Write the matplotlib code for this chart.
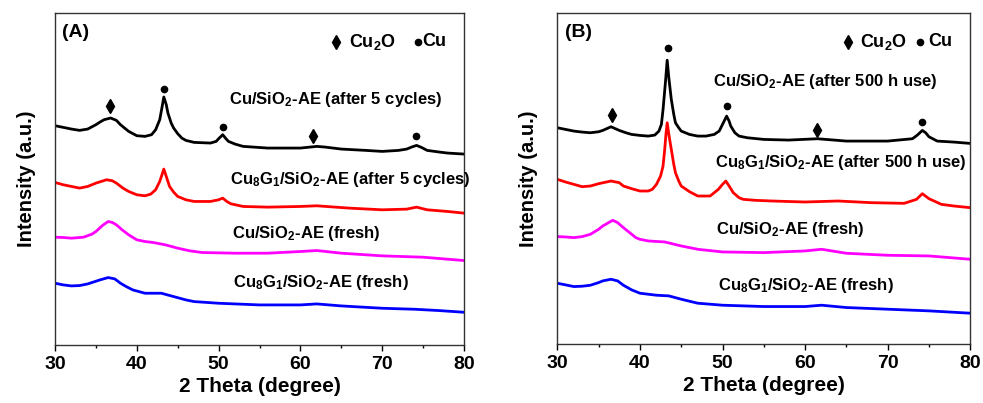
import matplotlib
matplotlib.use("Agg")
import matplotlib.pyplot as plt

plt.rcParams['font.family'] = 'Liberation Sans'
plt.rcParams['font.weight'] = 'bold'
plt.rcParams['mathtext.fontset'] = 'custom'
plt.rcParams['mathtext.rm'] = 'Liberation Sans:bold'
plt.rcParams['mathtext.it'] = 'Liberation Sans:bold'
plt.rcParams['mathtext.bf'] = 'Liberation Sans:bold'
plt.rcParams['mathtext.default'] = 'rm'

# XRD traces (2 theta, intensity in a.u.)
# panel A
a_black_x = [30, 31, 32, 33, 34, 35, 35.5, 36, 36.8, 37.5, 38, 38.5, 39, 40, 41, 41.8, 42.3, 42.8, 43.1, 43.3, 43.6,
             43.8, 44.2, 44.5, 45, 45.5, 46, 47, 48, 49, 49.7, 50, 50.5, 50.9, 51.2, 52, 53, 56, 58, 60, 62, 63, 65,
             68, 70, 72, 73, 73.6, 74.2, 74.8, 75.5, 77, 78, 80]
a_black_y = [657, 652, 647, 643, 647, 660, 668, 675, 680, 673, 660, 650, 640, 627, 625, 630, 645, 675, 715, 743, 720,
             695, 665, 650, 633, 620, 613, 607, 606, 605, 610, 618, 630, 618, 610, 602, 595, 590, 590, 590, 595, 593,
             587, 583, 580, 583, 587, 593, 598, 592, 583, 578, 575, 572]
a_red_x = [30, 31, 32, 33, 34, 35, 36.3, 37, 37.5, 38.3, 39, 40, 41, 41.7, 42.3, 42.8, 43.1, 43.3, 43.6, 44, 44.5, 45,
           46, 47, 49, 50, 50.5, 51, 51.5, 53, 56, 60, 62, 66, 70, 73, 74.2, 75.5, 78, 80]
a_red_y = [487, 480, 475, 470, 475, 485, 495, 492, 485, 470, 460, 450, 447, 452, 465, 490, 512, 527, 505, 475, 458,
           445, 435, 430, 430, 435, 440, 430, 423, 415, 413, 415, 417, 410, 405, 407, 413, 405, 400, 395]
a_mag_x = [30, 31, 32, 33.5, 34.5, 35, 35.8, 36.5, 37, 37.5, 38.2, 39, 40, 41, 42, 43.5, 45, 46.5, 48, 52, 56, 60, 62,
           65, 70, 75, 80]
a_mag_y = [323, 322, 320, 323, 332, 340, 358, 370, 367, 360, 345, 330, 315, 310, 307, 300, 290, 282, 277, 275, 275,
           280, 283, 275, 267, 263, 253]
a_blue_x = [30, 31, 32, 33, 34, 35, 35.5, 36.5, 37.3, 38, 38.7, 39.5, 41, 43, 44.5, 46, 47, 50, 55, 60, 62, 65, 70, 74,
            77, 80]
a_blue_y = [185, 180, 177, 178, 183, 191, 195, 202, 198, 185, 175, 165, 155, 155, 145, 135, 130, 125, 120, 120, 123,
            117, 110, 107, 103, 98]

# panel B
b_black_x = [30, 31, 32, 33, 34, 35, 35.5, 36.5, 37.5, 38.3, 39, 40, 41, 41.8, 42.3, 42.6, 42.8, 43.1, 43.3, 43.5,
             43.8, 44.1, 44.3, 44.7, 45, 46, 47, 48, 49, 49.6, 50, 50.5, 50.8, 51, 51.5, 52, 53, 55, 58, 61.5, 65,
             70, 73, 73.6, 74.2, 74.6, 75, 76, 78, 80]
b_black_y = [650, 645, 640, 637, 635, 638, 642, 653, 642, 635, 630, 627, 625, 628, 640, 660, 705, 790, 853, 800, 735,
             690, 665, 650, 640, 630, 625, 625, 630, 640, 660, 685, 670, 655, 635, 625, 620, 615, 613, 617, 610, 610,
             617, 628, 642, 635, 623, 610, 607, 603]
b_red_x = [30, 31, 32, 33, 34, 35, 36.5, 37.5, 38, 39, 40, 41, 41.5, 42, 42.5, 42.8, 43, 43.15, 43.3, 43.5, 43.8,
           44.1, 44.3, 44.7, 45, 46, 47, 48.5, 49.5, 50, 50.4, 50.8, 51.3, 52, 52.5, 54, 56, 60, 64, 68, 72, 73.5,
           74.2, 75, 76.5, 78, 80]
b_red_y = [495, 487, 480, 473, 475, 482, 490, 485, 475, 467, 460, 460, 465, 480, 505, 535, 585, 630, 665, 630, 585,
           540, 515, 490, 475, 458, 445, 445, 465, 480, 490, 475, 455, 440, 435, 432, 430, 427, 430, 425, 423, 435,
           452, 437, 420, 415, 410]
b_mag_x = [30, 31, 32, 33, 34, 35, 35.5, 36.7, 37.3, 38, 39, 39.5, 40, 41, 43, 45, 47, 50, 55, 60, 62, 65, 70, 75, 80]
b_mag_y = [323, 322, 320, 323, 330, 345, 355, 372, 365, 350, 330, 320, 315, 310, 307, 295, 285, 277, 275, 280, 285,
           273, 267, 265, 255]
b_blue_x = [30, 31, 32, 33, 34, 35, 35.5, 36.5, 37.3, 38, 39, 40, 42, 43.5, 45, 47, 50, 55, 60, 62, 65, 70, 75, 80]
b_blue_y = [183, 178, 173, 174, 177, 185, 190, 195, 190, 177, 163, 153, 147, 145, 135, 123, 117, 113, 113, 117, 110,
            105, 100, 93]

# phase markers: (2 theta, height)
a_cu2o_x = [36.7, 61.5]
a_cu2o_y = [715, 627]
a_cu_x = [43.3, 50.5, 74.1]
a_cu_y = [768, 652, 625]
b_cu2o_x = [36.6, 61.4]
b_cu2o_y = [687, 643]
b_cu_x = [43.4, 50.5, 74.2]
b_cu_y = [890, 715, 667]

a_labels = [r'Cu/SiO$_2$-AE (after 5 cycles)', r'Cu$_8$G$_1$/SiO$_2$-AE (after 5 cycles)',
            r'Cu/SiO$_2$-AE (fresh)', r'Cu$_8$G$_1$/SiO$_2$-AE (fresh)']
b_labels = [r'Cu/SiO$_2$-AE (after 500 h use)', r'Cu$_8$G$_1$/SiO$_2$-AE (after 500 h use)',
            r'Cu/SiO$_2$-AE (fresh)', r'Cu$_8$G$_1$/SiO$_2$-AE (fresh)']
colors = ['black', 'red', '#ff00ff', 'blue']

fig = plt.figure(figsize=(9.83, 4.03), dpi=100)
axA = fig.add_axes([0.056, 0.144, 0.416, 0.824])
axB = fig.add_axes([0.567, 0.146, 0.420, 0.822])


def draw(ax, curves, cu2o, cu, labels, label_pos, tag, legend_x):
    for (x, y), c in zip(curves, colors):
        ax.plot(x, y, color=c, lw=2.0)
    ax.plot(cu2o[0], cu2o[1], 'd', color='black', ms=7)
    ax.plot(cu[0], cu[1], 'o', color='black', ms=4.5)
    for lab, (lx, ly) in zip(labels, label_pos):
        ax.text(lx, ly, lab, fontsize=12, fontweight='bold', va='center')
    ax.text(30.9, 935, tag, fontsize=14, fontweight='bold', va='center')
    ax.plot(legend_x[0], 908, 'd', color='black', ms=7)
    ax.text(legend_x[1], 908, r'Cu$_2$O', fontsize=13, fontweight='bold', va='center')
    ax.plot(legend_x[2], 908, 'o', color='black', ms=4.5)
    ax.text(legend_x[3], 908, 'Cu', fontsize=13, fontweight='bold', va='center')
    ax.set_xlim(30, 80)
    ax.set_ylim(0, 995)
    ax.set_xticks([30, 40, 50, 60, 70, 80])
    ax.set_xticks([35, 45, 55, 65, 75], minor=True)
    ax.set_yticks([])
    ax.tick_params(axis='x', which='major', direction='out', length=4, width=1, labelsize=14, pad=4)
    ax.tick_params(axis='x', which='minor', direction='out', length=2.5, width=1)
    for s in ax.spines.values():
        s.set_color('#333333')
        s.set_linewidth(1)
    ax.set_xlabel('2 Theta (degree)', fontsize=15, fontweight='bold', labelpad=3)
    ax.set_ylabel('Intensity (a.u.)', fontsize=14.5, fontweight='bold', labelpad=14)


draw(axA,
     [(a_black_x, a_black_y), (a_red_x, a_red_y), (a_mag_x, a_mag_y), (a_blue_x, a_blue_y)],
     (a_cu2o_x, a_cu2o_y), (a_cu_x, a_cu_y), a_labels,
     [(51.3, 735), (51.4, 495), (51.6, 335), (51.8, 187)], '(A)', [64.3, 65.9, 74.4, 74.9])
draw(axB,
     [(b_black_x, b_black_y), (b_red_x, b_red_y), (b_mag_x, b_mag_y), (b_blue_x, b_blue_y)],
     (b_cu2o_x, b_cu2o_y), (b_cu_x, b_cu_y), b_labels,
     [(48.8, 790), (49.1, 545), (49.2, 343), (49.4, 177)], '(B)', [65.2, 66.6, 73.9, 74.9])

fig.savefig('out.png', dpi=100)
